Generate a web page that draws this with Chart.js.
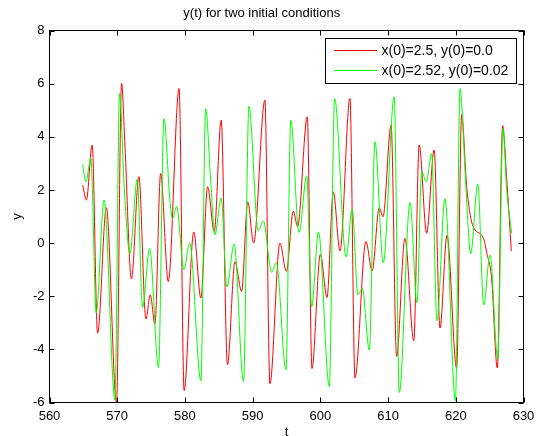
<!DOCTYPE html>
<html>
<head>
<meta charset="utf-8">
<title>y(t) for two initial conditions</title>
<script src="https://cdn.jsdelivr.net/npm/chart.js@4.4.1/dist/chart.umd.min.js"></script>
<style>
    body { margin: 0; background: white; }
    #chart { display: block; }
</style>
</head>
<body>
<canvas id="chart" width="541" height="436"></canvas>
<script>
// Chart data
const titleText = 'y(t) for two initial conditions';
const xTickValues = [560, 570, 580, 590, 600, 610, 620, 630];
const yTickValues = [-6, -4, -2, 0, 2, 4, 6, 8];

const redLabel = 'x(0)=2.5, y(0)=0.0';
const redT = [564.9, 565.45, 566.3, 567.1, 568.4, 569.9, 570.64, 571.14, 572.1, 573.2, 574.24, 574.88, 575.57, 576.41,
    577.54, 579.14, 579.88, 581.3, 582.36, 583.35, 584.33, 585.35, 586.28, 587.39, 588.37, 589.28, 590.14, 591.81,
    592.55, 594.03, 594.98, 596.0, 596.64, 598.07, 598.76, 600.0, 600.98, 601.91, 602.9, 604.37, 605.11, 606.73,
    607.65, 608.7, 609.25, 610.45, 611.26, 612.49, 613.8, 614.59, 615.7, 616.8, 617.67, 618.7, 620.13, 620.87,
    621.6, 622.45, 624.06, 624.6, 625.3, 626.13, 626.92, 627.51, 628.2];
const redY = [2.18, 1.62, 3.69, -3.39, 1.33, -6.0, 6.01, 3.69, -1.35, 2.5, -2.86, -1.95, -3.05, 2.62,
    -1.45, 5.82, -5.55, 0.42, -2.07, 2.12, 0.43, 4.63, -4.58, -0.7, -1.82, 1.55, 0.0, 5.38,
    -5.3, 0.0, -1.07, 1.2, 0.62, 4.75, -4.72, -0.42, -2.05, 1.93, -0.3, 5.44, -5.08, 0.06,
    -1.05, 1.33, 0.99, 4.44, -4.27, 0.18, -3.68, 3.69, 0.37, 3.5, -3.2, 0.3, -4.71, 4.84,
    2.15, 0.7, 0.2, -0.4, -1.35, -4.7, 4.42, 2.46, -0.3];

const greenLabel = 'x(0)=2.52, y(0)=0.02';
const greenT = [564.89, 565.37, 566.11, 566.9, 568.06, 569.66, 570.35, 571.04, 571.88, 572.96, 573.75, 574.78,
    576.1, 576.9, 577.78, 578.18, 578.77, 579.85, 580.7, 582.36, 583.06, 583.8, 584.43, 585.35, 586.2, 587.26,
    588.65, 589.45, 590.83, 591.57, 592.8, 593.5, 594.92, 595.63, 596.86, 597.98, 598.72, 599.72, 601.32,
    602.1, 603.8, 604.7, 605.55, 606.2, 607.23, 608.06, 609.29, 610.9, 611.66, 613.24, 614.27, 614.96,
    615.65, 616.44, 617.22, 618.4, 619.95, 620.62, 621.45, 622.2, 623.25, 624.12, 625.05, 626.2, 626.97,
    627.5, 628.25];
const greenY = [2.95, 2.31, 3.19, -2.64, 1.62, -5.9, 5.63, 2.06, -0.4, 2.4, -2.42, -0.2,
    -4.68, 4.68, 1.61, 0.92, 1.38, -1.0, 0.0, -5.18, 5.06, 2.36, 0.32, 1.7, -1.65, -0.03,
    -5.21, 5.15, 0.46, 0.84, -1.1, -0.73, -4.78, 4.62, 0.4, 2.53, -2.4, 0.42, -5.4,
    5.44, -0.52, 1.26, -1.95, -1.7, -4.03, 3.81, -0.75, 5.5, -5.62, 1.53, -2.25, 2.7,
    2.3, 3.37, -2.92, 1.67, -5.93, 5.81, 2.33, -0.4, 2.22, -2.33, -0.45, -4.36, 4.31,
    2.06, 0.37];

const fontFamily = "'Liberation Sans', Arial, Helvetica, sans-serif";

function toPoints(ts, ys) {
    return ts.map((t, i) => ({ x: t, y: ys[i] }));
}

// MATLAB style box, inward ticks and legend
const matlabFrame = {
    id: 'matlabFrame',
    afterDraw(chart) {
        const ctx = chart.ctx;
        const area = chart.chartArea;
        const xs = chart.scales.x;
        const ys = chart.scales.y;
        ctx.save();
        ctx.strokeStyle = 'black';
        ctx.lineWidth = 1;
        ctx.strokeRect(area.left, area.top, area.right - area.left, area.bottom - area.top);

        ctx.beginPath();
        xTickValues.forEach(v => {
            const px = Math.round(xs.getPixelForValue(v)) + 0.5;
            ctx.moveTo(px, area.bottom);
            ctx.lineTo(px, area.bottom - 5);
            ctx.moveTo(px, area.top);
            ctx.lineTo(px, area.top + 5);
        });
        yTickValues.forEach(v => {
            const py = Math.round(ys.getPixelForValue(v)) + 0.5;
            ctx.moveTo(area.left, py);
            ctx.lineTo(area.left + 5, py);
            ctx.moveTo(area.right, py);
            ctx.lineTo(area.right - 5, py);
        });
        ctx.stroke();

        // legend box
        const bx = 325.5, by = 38.5, bw = 191, bh = 45;
        ctx.fillStyle = 'white';
        ctx.fillRect(bx, by, bw, bh);
        ctx.strokeRect(bx, by, bw, bh);
        ctx.font = '14px ' + fontFamily;
        ctx.textBaseline = 'middle';
        chart.data.datasets.forEach((ds, i) => {
            const ly = 50.5 + i * 20;
            ctx.beginPath();
            ctx.strokeStyle = ds.borderColor;
            ctx.moveTo(334, ly);
            ctx.lineTo(377, ly);
            ctx.stroke();
            ctx.fillStyle = 'black';
            ctx.fillText(ds.label, 381.5, ly + 1);
        });
        ctx.restore();
    }
};

function drawChart() {
    const ctx = document.getElementById('chart').getContext('2d');
    new Chart(ctx, {
        type: 'line',
        data: {
            datasets: [{
                label: redLabel,
                data: toPoints(redT, redY),
                borderColor: '#ff0000',
                borderWidth: 1,
                order: 1
            }, {
                label: greenLabel,
                data: toPoints(greenT, greenY),
                borderColor: '#00ff00',
                borderWidth: 1,
                order: 0
            }]
        },
        options: {
            responsive: false,
            animation: false,
            layout: { padding: { top: 0, right: 17.5, left: 0, bottom: 0 } },
            elements: {
                point: { radius: 0 },
                line: { cubicInterpolationMode: 'monotone' }
            },
            plugins: {
                legend: { display: false },
                tooltip: { enabled: false },
                title: {
                    display: true,
                    text: titleText,
                    color: 'black',
                    font: { family: fontFamily, size: 13, weight: 'normal', lineHeight: 1.2 },
                    padding: { top: 6, bottom: 8.9 }
                }
            },
            scales: {
                x: {
                    type: 'linear',
                    min: 560,
                    max: 630,
                    afterBuildTicks: scale => { scale.ticks = xTickValues.map(v => ({ value: v })); },
                    afterFit: scale => { scale.height = 33.5; },
                    ticks: {
                        color: 'black',
                        padding: 6,
                        maxRotation: 0,
                        font: { family: fontFamily, size: 13 }
                    },
                    grid: { display: false, drawTicks: false },
                    border: { display: false },
                    title: {
                        display: true,
                        text: 't',
                        color: 'black',
                        font: { family: fontFamily, size: 13, lineHeight: 1 },
                        padding: { top: 0, bottom: -3 }
                    }
                },
                y: {
                    type: 'linear',
                    min: -6,
                    max: 8,
                    afterBuildTicks: scale => { scale.ticks = yTickValues.map(v => ({ value: v })); },
                    afterFit: scale => { scale.width = 49.5; },
                    ticks: {
                        color: 'black',
                        padding: 5,
                        font: { family: fontFamily, size: 13 }
                    },
                    grid: { display: false, drawTicks: false },
                    border: { display: false },
                    title: {
                        display: true,
                        text: 'y',
                        color: 'black',
                        font: { family: fontFamily, size: 13, lineHeight: 1.2 },
                        padding: { top: 10, bottom: 0 }
                    }
                }
            }
        },
        plugins: [matlabFrame]
    });
}

document.addEventListener('DOMContentLoaded', () => {
    drawChart();
});
</script>
</body>
</html>
